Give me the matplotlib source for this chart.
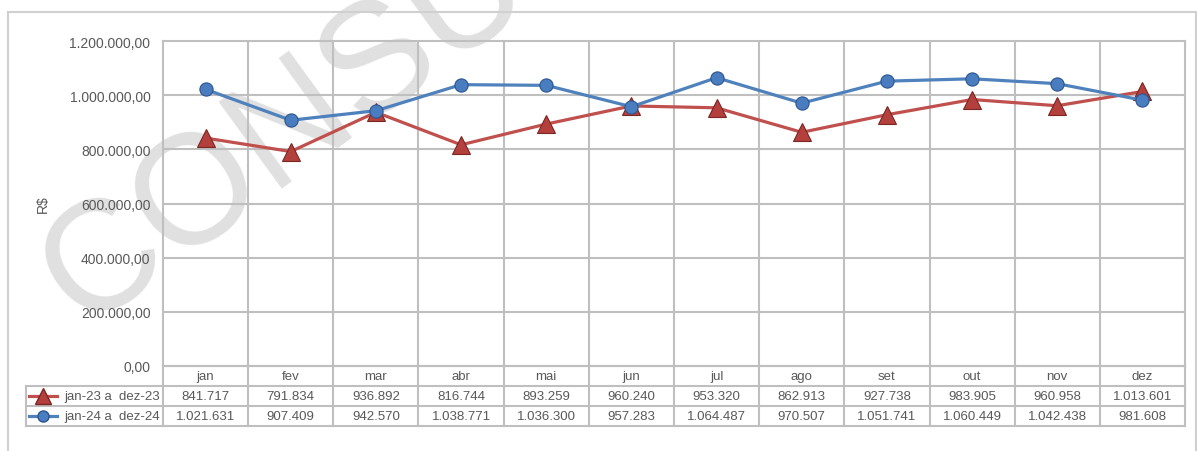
import numpy as np
import matplotlib
matplotlib.use("Agg")
from matplotlib import pyplot as plt
from matplotlib.transforms import blended_transform_factory

months = ["jan", "fev", "mar", "abr", "mai", "jun", "jul", "ago", "set", "out", "nov", "dez"]
vals_23 = [841717, 791834, 936892, 816744, 893259, 960240, 953320, 862913, 927738, 983905, 960958, 1013601]
vals_24 = [1021631, 907409, 942570, 1038771, 1036300, 957283, 1064487, 970507, 1051741, 1060449, 1042438, 981608]
series_names = ["jan-23 a  dez-23", "jan-24 a  dez-24"]
yticks = [0, 200000, 400000, 600000, 800000, 1000000, 1200000]

RED = "#C0504D"
BLUE = "#4F81BD"
GRID = "#BFBFBF"
TXT = "#595959"

plt.rcParams['font.family'] = ['Liberation Sans', 'DejaVu Sans']

def br_fmt(v, dec=0):
    s = f"{v:,.{dec}f}"
    return s.replace(",", "X").replace(".", ",").replace("X", ".")

W, H = 1197, 452
fig = plt.figure(figsize=(W / 100, H / 100), dpi=100)

# watermark, behind everything
fig.text(82 / W, 1 - 328 / H, "CONSULTORIA", fontsize=112, color="#E0E0E0",
         rotation=36, rotation_mode="anchor", ha="left", va="baseline", zorder=-1)

# outer frame
fig.add_artist(plt.Rectangle((8 / W, -0.1), (1196 - 8) / W, 1.1 - 13 / H, transform=fig.transFigure,
                             fill=False, edgecolor="#D0D0D0", linewidth=1.5, zorder=1))

left, right, top, bottom = 163, 1185, 42, 367
ax = fig.add_axes([left / W, 1 - bottom / H, (right - left) / W, (bottom - top) / H])
ax.patch.set_alpha(0)

x = np.arange(len(months))
ax.plot(x, vals_23, color=RED, lw=2.3, marker="^", markersize=12.5,
        markerfacecolor="#B3403D", markeredgecolor="#7A2623", markeredgewidth=0.8, zorder=4)
ax.plot(x, vals_24, color=BLUE, lw=2.3, marker="o", markersize=9.5,
        markerfacecolor="#4A7DC0", markeredgecolor="#2B5590", markeredgewidth=0.8, zorder=5)

ax.set_xlim(-0.5, len(months) - 0.5)
ax.set_ylim(0, 1200000)
ax.set_yticks(yticks)
ax.set_yticklabels([br_fmt(v, 2) for v in yticks], fontsize=10, color=TXT)
ax.set_xticks([])
ax.tick_params(axis="y", length=0, pad=9)
ax.set_ylabel("R$", fontsize=10, color=TXT)
ax.yaxis.set_label_coords(-113 / (right - left), 0.5)
for sp in ax.spines.values():
    sp.set_color(GRID)
    sp.set_linewidth(1.5)
for y in yticks[1:-1]:
    ax.axhline(y, color=GRID, lw=1.5, zorder=1)
for b in np.arange(0.5, len(months) - 1, 1):
    ax.axvline(b, color=GRID, lw=1.5, zorder=1)

# data table
tr = blended_transform_factory(ax.transData, ax.transAxes)
rh = 20 / (bottom - top)
ucol = (right - left) / len(months)
leg_l = -0.5 - (left - 26) / ucol
nrows = 3
for i in range(nrows + 1):
    y = -i * rh
    x0 = -0.5 if i == 0 else leg_l
    ax.plot([x0, len(months) - 0.5], [y, y], color=GRID, lw=1.5, transform=tr, clip_on=False)
for b in np.arange(-0.5, len(months), 1):
    ax.plot([b, b], [0, -nrows * rh], color=GRID, lw=1.5, transform=tr, clip_on=False)
ax.plot([leg_l, leg_l], [-rh, -nrows * rh], color=GRID, lw=1.5, transform=tr, clip_on=False)

for i, m in enumerate(months):
    ax.text(i, -0.5 * rh, m, transform=tr, ha="center", va="center", fontsize=9.5, color=TXT)
rows = [vals_23, vals_24]
for r, vals in enumerate(rows):
    for i, v in enumerate(vals):
        ax.text(i, -(r + 1.5) * rh, br_fmt(v), transform=tr, ha="center", va="center",
                fontsize=9.5, color=TXT)

styles = [dict(color=RED, marker="^", markersize=11, markerfacecolor="#B3403D", markeredgecolor="#7A2623"),
          dict(color=BLUE, marker="o", markersize=8, markerfacecolor="#4A7DC0", markeredgecolor="#2B5590")]
for r, name in enumerate(series_names):
    yc = -(r + 1.5) * rh
    ax.plot([leg_l + 3 / ucol, leg_l + 17 / ucol, leg_l + 31 / ucol], [yc, yc, yc], lw=2.3,
            transform=tr, clip_on=False, markevery=[1], **styles[r])
    ax.text(-0.5 - 3 / ucol, yc, name, transform=tr, ha="right", va="center", fontsize=9.5, color=TXT)

fig.savefig("out.png", dpi=100)
